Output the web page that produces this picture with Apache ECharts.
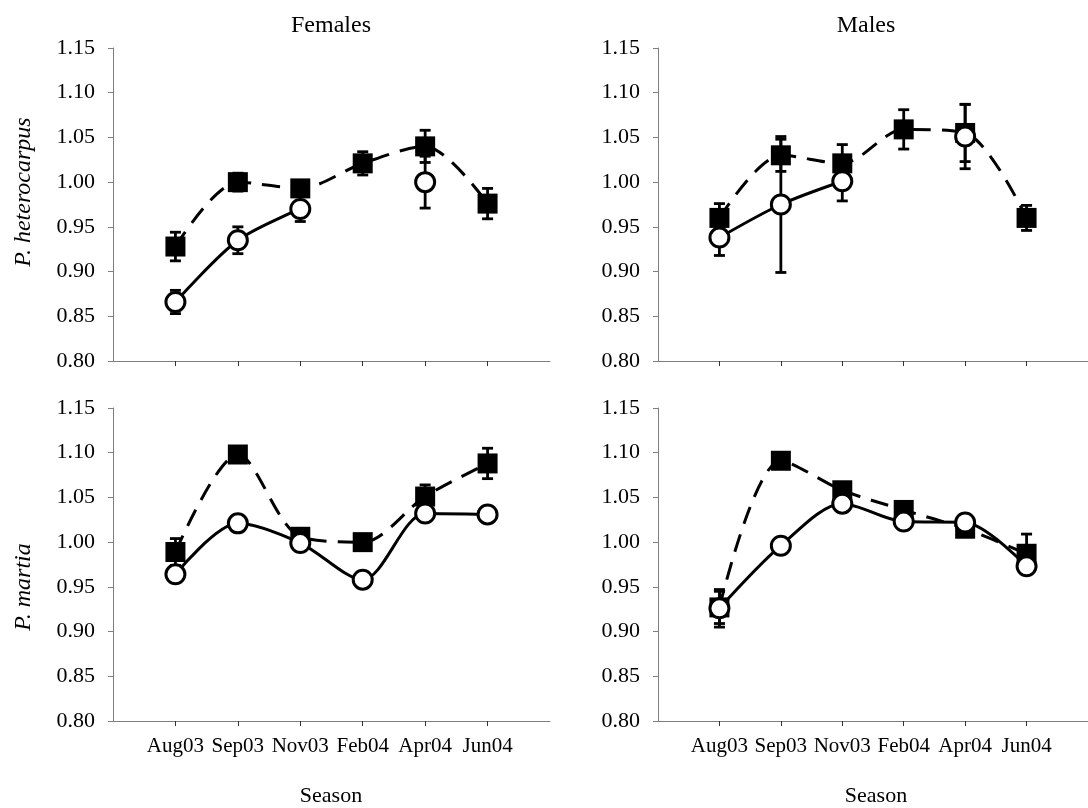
<!DOCTYPE html>
<html><head><meta charset="utf-8">
<script src="https://cdn.jsdelivr.net/npm/echarts@6/dist/echarts.min.js"></script>
<style>html,body{margin:0;padding:0;background:#fff}#c{width:1088px;height:808px}</style>
</head><body><div id="c"></div>
<script>
// ---- data ----
const seasons = ['Aug03', 'Sep03', 'Nov03', 'Feb04', 'Apr04', 'Jun04'];
const panelTitles = ['Females', 'Males'];
const speciesNames = ['P. heterocarpus', 'P. martia'];
const xAxisTitle = 'Season';

// P. heterocarpus, females
const hetF_square = [0.928, 1.000, 0.993, 1.021, 1.040, 0.976];
const hetF_squareErr = [0.016, 0.010, 0.008, 0.013, 0.018, 0.017];
const hetF_circle = [0.866, 0.935, 0.970, null, 1.000, null];
const hetF_circleErr = [0.013, 0.015, 0.014, null, 0.029, null];

// P. heterocarpus, males
const hetM_square = [0.960, 1.030, 1.021, 1.059, 1.055, 0.960];
const hetM_squareErr = [0.016, 0.018, 0.021, 0.022, 0.032, 0.014];
const hetM_circle = [0.938, 0.975, 1.001, null, 1.051, null];
const hetM_circleErr = [0.020, 0.076, 0.022, null, 0.036, null];

// P. martia, females
const marF_square = [0.989, 1.098, 1.006, 1.000, 1.051, 1.088];
const marF_squareErr = [0.015, 0.008, 0.005, 0.004, 0.013, 0.017];
const marF_circle = [0.964, 1.021, 0.999, 0.958, 1.032, 1.031];
const marF_circleErr = [0.005, 0.005, 0.005, 0.005, 0.005, 0.005];

// P. martia, males
const marM_square = [0.927, 1.091, 1.058, 1.036, 1.015, 0.987];
const marM_squareErr = [0.018, 0.005, 0.005, 0.005, 0.005, 0.022];
const marM_circle = [0.926, 0.996, 1.043, 1.023, 1.022, 0.973];
const marM_circleErr = [0.021, 0.005, 0.005, 0.005, 0.005, 0.005];

const panels = [
  { sq: hetF_square, sqErr: hetF_squareErr, ci: hetF_circle, ciErr: hetF_circleErr },
  { sq: hetM_square, sqErr: hetM_squareErr, ci: hetM_circle, ciErr: hetM_circleErr },
  { sq: marF_square, sqErr: marF_squareErr, ci: marF_circle, ciErr: marF_circleErr },
  { sq: marM_square, sqErr: marM_squareErr, ci: marM_circle, ciErr: marM_circleErr }
];

// ---- layout ----
const FONT = '"Liberation Serif", "Times New Roman", Times, serif';
const gridBoxes = [
  { left: 113, top: 48, width: 437, height: 313 },
  { left: 658, top: 48, width: 437, height: 313 },
  { left: 113, top: 408, width: 437, height: 313 },
  { left: 658, top: 408, width: 437, height: 313 }
];
const tickPos = seasons.map((s, k) => k + 1);
const AXIS_COLOR = '#7f7f7f';

function errRender(params, api) {
  const x = api.value(0), v = api.value(1), e = api.value(2);
  if (isNaN(v) || isNaN(e)) return;
  const top = api.coord([x, v + e]);
  const bot = api.coord([x, v - e]);
  const cap = 5.5;
  const style = { stroke: '#000', lineWidth: 2.8 };
  return {
    type: 'group',
    children: [
      { type: 'line', shape: { x1: top[0], y1: top[1], x2: bot[0], y2: bot[1] }, style: style },
      { type: 'line', shape: { x1: top[0] - cap, y1: top[1], x2: top[0] + cap, y2: top[1] }, style: style },
      { type: 'line', shape: { x1: bot[0] - cap, y1: bot[1], x2: bot[0] + cap, y2: bot[1] }, style: style }
    ]
  };
}
function errData(vals, errs) {
  const out = [];
  vals.forEach((v, k) => { if (v !== null && errs[k] !== null) out.push([k + 1, v, errs[k]]); });
  return out;
}
function lineData(vals) {
  return vals.map((v, k) => [k + 1, v === null ? '-' : v]);
}

const grid = [], xAxis = [], yAxis = [], series = [];
gridBoxes.forEach((g, i) => {
  grid.push(Object.assign({ containLabel: false }, g));
  xAxis.push({
    type: 'value', gridIndex: i, min: 0, max: 7, interval: 1,
    axisLine: { show: true, onZero: false, lineStyle: { color: AXIS_COLOR, width: 1 } },
    axisTick: { show: true, length: 5, customValues: tickPos, lineStyle: { color: '#333', width: 1 } },
    axisLabel: {
      show: i >= 2, customValues: tickPos, formatter: v => seasons[Math.round(v) - 1] || '',
      fontFamily: FONT, fontSize: 21, color: '#000', margin: 15
    },
    splitLine: { show: false }
  });
  yAxis.push({
    type: 'value', gridIndex: i, min: 0.8, max: 1.15, interval: 0.05,
    axisLine: { show: true, lineStyle: { color: AXIS_COLOR, width: 1 } },
    axisTick: { show: true, length: 5, lineStyle: { color: AXIS_COLOR, width: 1 } },
    axisLabel: { formatter: v => v.toFixed(2), fontFamily: FONT, fontSize: 22, color: '#000', margin: 18 },
    splitLine: { show: false }
  });
  const p = panels[i];
  series.push({
    type: 'custom', xAxisIndex: i, yAxisIndex: i, renderItem: errRender,
    data: errData(p.sq, p.sqErr), encode: { x: 0, y: 1 }, z: 1, silent: true, clip: false
  });
  series.push({
    type: 'custom', xAxisIndex: i, yAxisIndex: i, renderItem: errRender,
    data: errData(p.ci, p.ciErr), encode: { x: 0, y: 1 }, z: 1, silent: true, clip: false
  });
  series.push({
    type: 'line', xAxisIndex: i, yAxisIndex: i, data: lineData(p.sq),
    smooth: 0.3, connectNulls: false, symbol: 'rect', symbolSize: 20, showAllSymbol: true,
    itemStyle: { color: '#000' },
    lineStyle: { color: '#000', width: 3, type: [18, 11] }, z: 2
  });
  series.push({
    type: 'line', xAxisIndex: i, yAxisIndex: i, data: lineData(p.ci),
    smooth: 0.3, connectNulls: false, symbol: 'circle', symbolSize: 19, showAllSymbol: true,
    itemStyle: { color: '#fff', borderColor: '#000', borderWidth: 3 },
    lineStyle: { color: '#000', width: 3, type: 'solid' }, z: 3
  });
});

const textStyleBase = { fontFamily: FONT, fill: '#000', align: 'center', verticalAlign: 'middle' };
const graphic = [
  { type: 'text', x: 331, y: 26, style: Object.assign({ text: panelTitles[0], fontSize: 24 }, textStyleBase) },
  { type: 'text', x: 866, y: 26, style: Object.assign({ text: panelTitles[1], fontSize: 24 }, textStyleBase) },
  { type: 'text', x: 331, y: 796, style: Object.assign({ text: xAxisTitle, fontSize: 22 }, textStyleBase) },
  { type: 'text', x: 876, y: 796, style: Object.assign({ text: xAxisTitle, fontSize: 22 }, textStyleBase) },
  { type: 'text', x: 24, y: 192, rotation: Math.PI / 2, style: Object.assign({ text: speciesNames[0], fontSize: 24, fontStyle: 'italic' }, textStyleBase) },
  { type: 'text', x: 24, y: 587, rotation: Math.PI / 2, style: Object.assign({ text: speciesNames[1], fontSize: 24, fontStyle: 'italic' }, textStyleBase) }
];

const chart = echarts.init(document.getElementById('c'), null, { renderer: 'canvas' });
chart.setOption({
  animation: false,
  backgroundColor: '#fff',
  grid, xAxis, yAxis, series, graphic
});
</script></body></html>
